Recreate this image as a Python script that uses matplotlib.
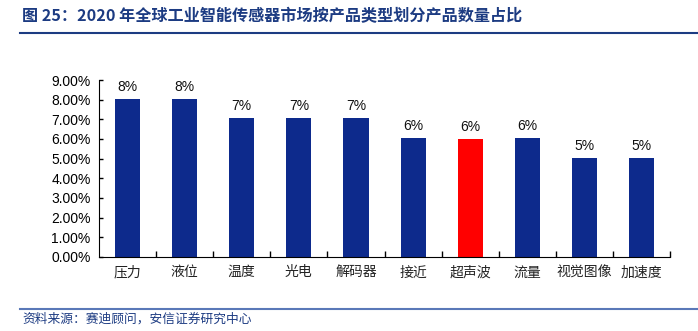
import matplotlib
matplotlib.use("Agg")
import matplotlib.pyplot as plt
from matplotlib.lines import Line2D
from matplotlib.ticker import FuncFormatter

plt.rcParams["font.family"] = ["Liberation Sans", "Noto Sans CJK SC", "DejaVu Sans"]

# 产品类型与数量占比
categorias = ["压力", "液位", "温度", "光电", "解码器", "接近", "超声波", "流量", "视觉图像", "加速度"]
占比 = [0.0805, 0.0805, 0.0705, 0.0705, 0.0705, 0.0605, 0.0600, 0.0605, 0.0505, 0.0505]
destacado = "超声波"

AZUL = "#0D2A8C"
ROJO = "#FF0000"
AZUL_TITULO = "#1C3B82"

fig = plt.figure(figsize=(6.98, 3.31), dpi=100)
ax = fig.add_axes([0.1418, 0.2236, 0.8182, 0.5347])

colores = [ROJO if c == destacado else AZUL for c in categorias]
x = range(len(categorias))
barras = ax.bar(x, 占比, width=0.44, color=colores, zorder=2)

for b, v in zip(barras, 占比):
    ax.text(b.get_x() + b.get_width() / 2, v + 0.0025, f"{v:.0%}",
            ha="center", va="bottom", fontsize=10, color="#111111")

ax.set_xlim(-0.5, len(categorias) - 0.5)
ax.set_ylim(0, 0.09)
ax.set_yticks([i / 100 for i in range(10)])
ax.yaxis.set_major_formatter(FuncFormatter(lambda v, _: f"{v * 100:.2f}%"))
ax.set_xticks(list(x))
ax.set_xticklabels(categorias, fontfamily=["Noto Sans CJK SC"], fontsize=10, color="#222222")
ax.set_xticks([i + 0.5 for i in range(len(categorias))], minor=True)
ax.tick_params(axis="x", which="major", length=0, pad=6)
ax.tick_params(axis="x", which="minor", direction="in", length=4, width=1)
ax.tick_params(axis="y", direction="in", length=3, width=1, labelsize=10, pad=6)

for lado in ("top", "right"):
    ax.spines[lado].set_visible(False)
ax.spines["left"].set_color("#000000")
ax.spines["bottom"].set_color("#000000")

fig.text(0.032, 0.953, "图 25：2020 年全球工业智能传感器市场按产品类型划分产品数量占比",
         fontfamily=["Noto Sans CJK SC"], fontsize=11.6, fontweight="bold",
         color=AZUL_TITULO, ha="left", va="center")
fig.add_artist(Line2D([0.029, 1.0], [0.9, 0.9], color=AZUL_TITULO, lw=1.5))

fig.add_artist(Line2D([0.029, 1.0], [0.066, 0.066], color="#5A78B8", lw=1.5))
fig.text(0.032, 0.035, "资料来源：赛迪顾问，安信证券研究中心",
         fontfamily=["Noto Sans CJK SC"], fontsize=9.2, style="italic",
         color=AZUL_TITULO, ha="left", va="center")

fig.savefig("out.png", dpi=100)
